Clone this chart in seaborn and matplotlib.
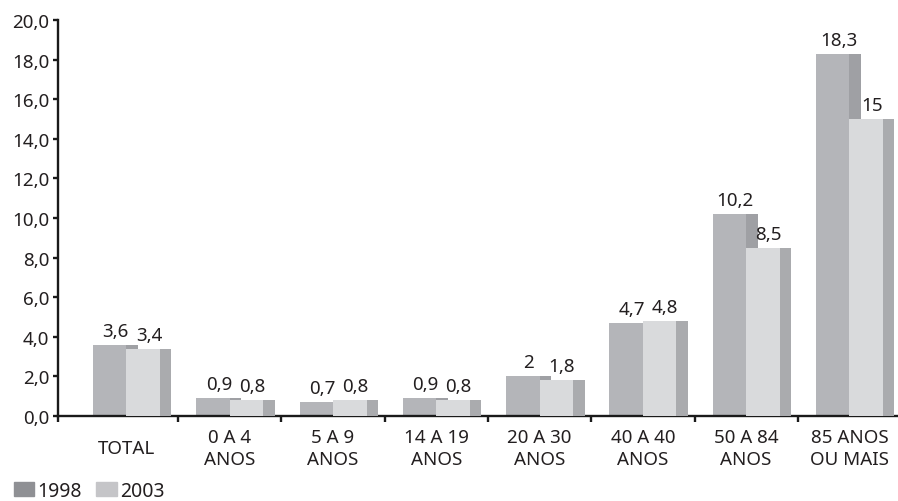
import numpy as np
import pandas as pd
import matplotlib
matplotlib.use("Agg")
import matplotlib.pyplot as plt
from matplotlib.patches import Patch
import seaborn as sns

# Data
categories = ["TOTAL", "0 A 4\nANOS", "5 A 9\nANOS", "14 A 19\nANOS", "20 A 30\nANOS",
              "40 A 40\nANOS", "50 A 84\nANOS", "85 ANOS\nOU MAIS"]
years = ["1998", "2003"]
values_1998 = [3.6, 0.9, 0.7, 0.9, 2.0, 4.7, 10.2, 18.3]
values_2003 = [3.4, 0.8, 0.8, 0.8, 1.8, 4.8, 8.5, 15.0]
y_ticks = [0, 2, 4, 6, 8, 10, 12, 14, 16, 18, 20]

# Colours: front face, side face, legend swatch
front = {"1998": "#b4b5b9", "2003": "#d9dadc"}
side = {"1998": "#9fa0a4", "2003": "#aaabae"}
swatch = {"1998": "#8f9094", "2003": "#c5c5c8"}
text_color = "#231f20"
fs = 13.5

df = pd.DataFrame({
    "cat": categories * 2,
    "val": values_1998 + values_2003,
    "year": ["1998"] * len(categories) + ["2003"] * len(categories),
})

sns.set_style("white")
plt.rcParams["font.family"] = ["Noto Sans", "DejaVu Sans"]

fig = plt.figure(figsize=(8.98, 5.02), dpi=100)
ax = fig.add_axes([58 / 898, 85 / 502, 840 / 898, 396 / 502])

front_w = 0.324   # width of each front face
side_w = 0.111    # depth strip on the right of each bar

sns.barplot(data=df, x="cat", y="val", hue="year", order=categories, hue_order=years,
            palette=[front["1998"], front["2003"]], width=2 * front_w, dodge=True,
            saturation=1, legend=False, errorbar=None, ax=ax, linewidth=0)

# Stack order: 1998 front < 1998 side < 2003 front < 2003 side
for p in ax.containers[0]:
    p.set_zorder(2)
for p in ax.containers[1]:
    p.set_zorder(4)

pos = np.arange(len(categories))
ax.bar(pos, values_1998, width=side_w, align="edge", color=side["1998"],
       linewidth=0, zorder=3)
ax.bar(pos + front_w, values_2003, width=side_w, align="edge", color=side["2003"],
       linewidth=0, zorder=4)

def fmt(v):
    return f"{v:g}".replace(".", ",")

# Value labels centred over each bar (front + side)
for i in range(len(categories)):
    for v, x0 in ((values_1998[i], i - front_w), (values_2003[i], i)):
        xc = x0 + (front_w + side_w) / 2
        ax.annotate(fmt(v), (xc, v), xytext=(0, 6.5), textcoords="offset points",
                    ha="center", va="baseline", fontsize=fs, color=text_color, zorder=6)

x_left = -0.663
ax.set_xlim(x_left, 7.47)
ax.set_ylim(0, 20)

# Axes styling
for s in ("top", "right"):
    ax.spines[s].set_visible(False)
for s in ("left", "bottom"):
    ax.spines[s].set_color("#1a1a1a")
    ax.spines[s].set_linewidth(1.7)

ax.set_yticks(y_ticks)
ax.set_yticklabels([f"{t:.1f}".replace(".", ",") for t in y_ticks])
ax.tick_params(axis="y", direction="out", length=3.8, width=1.7, color="#1a1a1a",
               pad=2.5, labelsize=fs, labelcolor=text_color, left=True)

ax.set_xticks(pos)
ax.set_xticklabels(categories)
ax.set_xticks([x_left] + list(pos[:-1] + 0.5), minor=True)
ax.tick_params(axis="x", which="major", length=0, pad=23, labelsize=fs,
               labelcolor=text_color)
ax.tick_params(axis="x", which="minor", direction="out", length=4.5, width=1.7,
               color="#1a1a1a", bottom=True)
for lbl in ax.get_xticklabels():
    lbl.set_va("center")
    lbl.set_linespacing(1.32)

ax.set_xlabel("")
ax.set_ylabel("")
ax.grid(False)

handles = [Patch(color=swatch[y], label=y) for y in years]
fig.legend(handles=handles, loc="lower left", bbox_to_anchor=(0.0156, 0.0), ncol=2,
           frameon=False, fontsize=14, handlelength=1.05, handleheight=0.72,
           handletextpad=0.15, columnspacing=0.75, borderaxespad=0, borderpad=0,
           labelcolor=text_color)

fig.savefig("out.png", dpi=100)
